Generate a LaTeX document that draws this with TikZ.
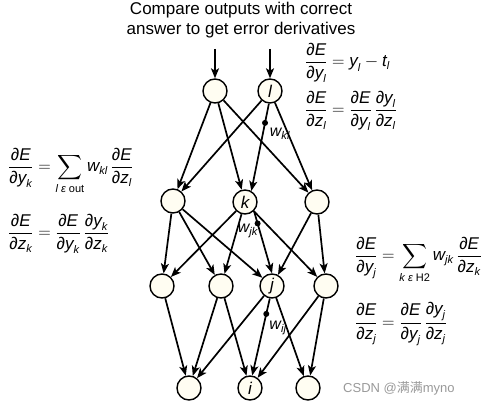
\documentclass[tikz,border=0pt]{standalone}
\usepackage{amsmath}
\usepackage{fontspec}
\setmainfont{Liberation Sans}
\newfontfamily\cjk{Noto Sans CJK SC}
\usetikzlibrary{arrows.meta}
\newcommand\mi[1]{\mbox{\itshape #1}}
\newcommand\ms[1]{\mbox{\fontsize{11}{11}\selectfont\itshape #1}}
\newcommand\mup[1]{\mbox{\fontsize{11}{11}\selectfont #1}}
\definecolor{cream}{HTML}{FFFDF2}
\tikzset{
  unit/.style={circle,draw,line width=1.4pt,fill=cream,minimum size=24pt,inner sep=0pt,
    font=\fontsize{17}{17}\selectfont\itshape},
  edge/.style={line width=1.7pt,-{Stealth[length=10pt,width=8pt,inset=2.5pt]}},
  wdot/.style={circle,fill=black,minimum size=6pt,inner sep=0pt},
  wlab/.style={font=\fontsize{16}{16}\selectfont\itshape,inner sep=0pt},
  formula/.style={anchor=west,inner sep=0pt,font=\fontsize{17}{20}\selectfont},
  title/.style={align=center,font=\fontsize{17}{20}\selectfont,inner sep=0pt}
}
\begin{document}
\begin{tikzpicture}[x=1pt,y=-1pt]
\useasboundingbox (0,0) rectangle (488,404);
% title
\node[title] (title) at (241,20) {Compare outputs with correct\\answer to get error derivatives};
% units
\node[unit] (o1) at (215,91) {};
\node[unit] (l) at (270,91) {l};
\node[unit] (h1) at (173,201) {};
\node[unit] (k) at (245,202) {k};
\node[unit] (h3) at (317,202) {};
\node[unit] (g1) at (162,286) {};
\node[unit] (g2) at (221,286) {};
\node[unit] (j) at (272,286) {j};
\node[unit] (g4) at (326,286) {};
\node[unit] (b1) at (189,388) {};
\node[unit] (i) at (250,388) {i};
\node[unit] (b3) at (308,388) {};
% inputs from above
\coordinate (c1) at (215,49);
\coordinate (c2) at (270,49);
\draw[edge] (c1) -- (o1);
\draw[edge] (c2) -- (l);
% output -> H2
\draw[edge] (o1) -- (h1);
\draw[edge] (o1) -- (k);
\draw[edge] (o1) -- (h3);
\draw[edge] (l) -- (h1);
\draw[edge] (l.-95) -- node[pos=0.22,wdot] (dkl) {} (k.60);
\draw[edge] (l) -- (h3);
% H2 -> H1
\draw[edge] (h1) -- (g1);
\draw[edge] (h1) -- (g2);
\draw[edge] (h1) -- (j);
\draw[edge] (k) -- (g1);
\draw[edge] (k) -- (g2);
\draw[edge] (k.-45) -- node[pos=0.2,wdot] (djk) {} (j.north);
\draw[edge] (k) -- (g4);
\draw[edge] (h3) -- (j);
\draw[edge] (h3) -- (g4);
% H1 -> input
\draw[edge] (g1) -- (b1);
\draw[edge] (g2) -- (b1);
\draw[edge] (g2) -- (i);
\draw[edge] (j) -- (b1);
\draw[edge] (j.-100) -- node[pos=0.2,wdot] (dij) {} (i.80);
\draw[edge] (j) -- (b3);
\draw[edge] (g4) -- (i);
\draw[edge] (g4) -- (b3);
% weight labels
\node[wlab] (wkl) at (280,134) {w\textsubscript{\itshape kl}};
\node[wlab] (wjk) at (248,231) {w\textsubscript{\itshape jk}};
\node[wlab] (wij) at (278,328) {w\textsubscript{\itshape ij}};
% formulas
\node[formula] (f1) at (305,63) {$\dfrac{\mi{∂E}}{\mi{∂y}_{\ms{l}}}=\mi{y}_{\ms{l}}-\mi{t}_{\ms{l}}$};
\node[formula] (f2) at (305,111) {$\dfrac{\mi{∂E}}{\mi{∂z}_{\ms{l}}}=\dfrac{\mi{∂E}}{\mi{∂y}_{\ms{l}}}\,\dfrac{\mi{∂y}_{\ms{l}}}{\mi{∂z}_{\ms{l}}}$};
\node[formula] (f3) at (8,171) {$\displaystyle\dfrac{\mi{∂E}}{\mi{∂y}_{\ms{k}}}=\sum_{\ms{l ε }\mup{out}}\mi{w}_{\ms{kl}}\,\dfrac{\mi{∂E}}{\mi{∂z}_{\ms{l}}}$};
\node[formula] (f4) at (8,234) {$\dfrac{\mi{∂E}}{\mi{∂z}_{\ms{k}}}=\dfrac{\mi{∂E}}{\mi{∂y}_{\ms{k}}}\,\dfrac{\mi{∂y}_{\ms{k}}}{\mi{∂z}_{\ms{k}}}$};
\node[formula] (f5) at (355,260) {$\displaystyle\dfrac{\mi{∂E}}{\mi{∂y}_{\ms{j}}}=\sum_{\ms{k ε }\mup{H2}}\mi{w}_{\ms{jk}}\,\dfrac{\mi{∂E}}{\mi{∂z}_{\ms{k}}}$};
\node[formula] (f6) at (355,324) {$\dfrac{\mi{∂E}}{\mi{∂z}_{\ms{j}}}=\dfrac{\mi{∂E}}{\mi{∂y}_{\ms{j}}}\,\dfrac{\mi{∂y}_{\ms{j}}}{\mi{∂z}_{\ms{j}}}$};
% watermark
\node[anchor=west,inner sep=0pt,text=black!40,font=\fontsize{13}{13}\selectfont] (wm) at (343,388) {CSDN @{\cjk 满满}myno};
\end{tikzpicture}
\end{document}
